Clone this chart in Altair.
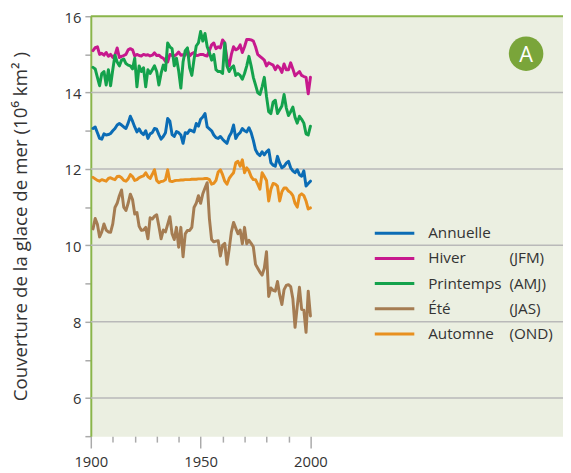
import altair as alt
import pandas as pd

years = list(range(1901, 2001))

annuelle = [
    13.06, 13.10, 12.95, 12.80, 12.78, 12.92, 12.89, 12.90, 12.93, 13.00,
    13.06, 13.15, 13.19, 13.15, 13.10, 13.06, 13.20, 13.38, 13.25, 13.10,
    12.97, 13.05, 12.95, 12.90, 13.00, 12.80, 12.92, 12.95, 13.06, 13.04,
    12.90, 12.78, 12.85, 12.95, 13.32, 13.25, 12.90, 12.85, 12.98, 12.95,
    12.89, 12.67, 12.95, 12.93, 13.02, 13.00, 12.97, 13.19, 13.12, 13.30,
    13.36, 13.45, 13.10, 13.05, 13.00, 12.89, 12.82, 12.80, 12.85, 12.78,
    12.72, 12.67, 12.85, 12.95, 13.15, 12.80, 12.90, 12.95, 13.06, 13.00,
    12.97, 13.08, 12.95, 12.75, 12.50, 12.40, 12.35, 12.45, 12.37, 12.45,
    12.50, 12.16, 12.10, 12.07, 12.33, 12.15, 12.03, 12.07, 12.15, 12.20,
    12.03, 11.95, 11.90, 11.98, 11.85, 11.81, 11.95, 11.55, 11.62, 11.68,
]
hiver = [
    15.10, 15.18, 15.20, 15.00, 15.03, 14.98, 15.05, 14.95, 15.00, 14.92,
    14.98, 15.17, 14.92, 14.95, 14.97, 15.00, 15.12, 15.15, 15.12, 14.96,
    15.00, 14.97, 14.96, 15.00, 14.98, 14.99, 14.96, 14.98, 15.04, 14.97,
    14.98, 14.93, 14.90, 14.82, 14.80, 15.00, 14.97, 14.96, 15.00, 15.06,
    14.98, 14.99, 14.98, 15.12, 14.96, 15.02, 15.05, 14.97, 14.98, 15.00,
    15.00, 14.97, 14.96, 15.10, 15.25, 15.30, 15.15, 15.20, 15.17, 15.38,
    15.30, 14.88, 14.70, 15.00, 15.20, 15.12, 15.15, 15.25, 15.05, 15.20,
    15.39, 15.39, 15.38, 15.35, 15.20, 15.00, 14.95, 14.90, 14.85, 14.70,
    14.78, 14.75, 14.72, 14.60, 14.70, 14.65, 14.53, 14.75, 14.60, 14.60,
    14.78, 14.62, 14.44, 14.50, 14.55, 14.45, 14.42, 14.40, 13.97, 14.40,
]
printemps = [
    14.66, 14.62, 14.40, 14.18, 14.50, 14.55, 14.20, 14.60, 14.18, 14.60,
    14.98, 14.80, 14.70, 14.85, 14.88, 14.76, 14.72, 14.70, 14.62, 14.90,
    14.15, 14.70, 14.55, 14.65, 14.15, 14.60, 14.50, 14.60, 14.70, 14.55,
    14.20, 14.50, 14.72, 14.58, 15.30, 15.20, 15.15, 14.70, 14.90, 14.57,
    14.12, 14.80, 15.10, 15.17, 14.65, 14.45, 14.87, 15.22, 15.30, 15.60,
    15.35, 15.55, 15.20, 15.05, 14.85, 15.00, 14.60, 14.55, 14.55, 14.50,
    15.30, 14.70, 14.55, 14.65, 14.70, 14.45, 14.50, 14.45, 14.35, 14.50,
    14.70, 14.95, 14.70, 14.40, 14.20, 14.00, 13.95, 14.15, 14.40, 13.90,
    13.50, 13.45, 13.75, 13.80, 13.45, 13.55, 13.65, 13.95, 13.60, 13.40,
    13.50, 13.62, 13.35, 13.20, 13.38, 13.30, 13.20, 12.92, 12.89, 13.12,
]
ete = [
    10.43, 10.70, 10.55, 10.22, 10.35, 10.56, 10.40, 10.35, 10.34, 10.56,
    10.99, 11.10, 11.30, 11.45, 11.00, 10.91, 11.10, 11.34, 11.20, 10.82,
    10.86, 10.50, 10.39, 10.40, 10.47, 10.17, 10.72, 10.69, 10.76, 10.80,
    10.50, 10.17, 10.40, 10.35, 10.55, 10.75, 10.30, 10.15, 10.47, 9.95,
    10.47, 9.70, 10.30, 10.39, 10.39, 10.47, 10.99, 11.10, 11.30, 11.10,
    11.35, 11.50, 11.64, 10.70, 10.15, 10.09, 10.11, 10.12, 9.72, 10.00,
    10.05, 9.50, 9.90, 10.35, 10.60, 10.45, 10.30, 10.40, 10.04, 10.47,
    10.04, 10.13, 10.05, 9.96, 9.50, 9.40, 9.30, 9.22, 9.40, 9.83,
    8.66, 8.88, 8.82, 8.80, 9.05, 8.70, 8.45, 8.84, 8.95, 8.97,
    8.92, 8.60, 7.85, 8.40, 8.90, 8.32, 8.30, 7.72, 8.80, 8.15,
]
automne = [
    11.78, 11.74, 11.70, 11.68, 11.72, 11.70, 11.68, 11.75, 11.77, 11.74,
    11.72, 11.80, 11.81, 11.77, 11.70, 11.68, 11.74, 11.85, 11.80, 11.70,
    11.72, 11.77, 11.80, 11.82, 11.90, 11.80, 11.75, 11.86, 11.98, 11.70,
    11.64, 11.67, 11.68, 11.72, 11.98, 11.68, 11.67, 11.69, 11.70, 11.70,
    11.71, 11.71, 11.72, 11.72, 11.72, 11.73, 11.73, 11.73, 11.74, 11.74,
    11.74, 11.75, 11.75, 11.72, 11.60, 11.62, 11.70, 11.92, 11.98, 11.85,
    11.68, 11.60, 11.75, 11.83, 11.90, 12.16, 12.20, 12.07, 12.24, 11.90,
    12.03, 11.95, 11.80, 11.72, 11.72, 11.60, 11.47, 11.90, 11.80, 11.70,
    11.16, 11.47, 11.62, 11.60, 11.55, 11.16, 11.40, 11.50, 11.50, 11.42,
    11.38, 11.30, 11.10, 11.00, 11.30, 11.35, 11.30, 11.16, 10.95, 10.98,
]

series_names = ["Annuelle", "Hiver", "Printemps", "Été", "Automne"]
series_codes = ["", "(JFM)", "(AMJ)", "(JAS)", "(OND)"]
series_colors = ["#0b6cb5", "#c7198d", "#14a24c", "#a57c52", "#e8901f"]
grid_values = [6, 8, 10, 12, 14]
x_ticks = list(range(1900, 2001, 10))
y_ticks = list(range(5, 17))
y_title = "Couverture de la glace de mer (10⁶  km² )"
badge_label = ["A"]

GREEN = "#8ab54a"
TEXT = "#333333"

series_values = dict(zip(series_names, [annuelle, hiver, printemps, ete, automne]))
rows = []
for name in series_names:
    for yr, v in zip(years, series_values[name]):
        rows.append({"year": yr, "value": v, "series": name})
df = pd.DataFrame(rows)

xscale = alt.Scale(domain=[1900, 2115], nice=False, zero=False)
yscale = alt.Scale(domain=[5, 16], nice=False, zero=False)

xaxis = alt.Axis(
    values=x_ticks, format="d",
    labelExpr="datum.value % 50 === 0 ? datum.label : ''",
    tickSize={"condition": {"test": "datum.value % 50 === 0", "value": 12}, "value": 6},
    tickColor="#aaaaaa", tickWidth=1.5, domain=False, grid=False,
    labelFont="Open Sans", labelFontSize=15, labelColor=TEXT,
    labelPadding=7, labelOverlap=False, labelFlush=False,
)
yaxis = alt.Axis(
    values=y_ticks,
    labelExpr="datum.value % 2 === 0 ? datum.label : ''",
    tickSize=6, tickColor="#aaaaaa", tickWidth=1.5,
    domainColor=GREEN, domainWidth=2, grid=False,
    labelFont="Open Sans", labelFontSize=15, labelColor=TEXT,
    labelPadding=4, labelOverlap=False, labelFlush=False, labelOffset=1,
    title=y_title, titleFont="Open Sans", titleFontSize=19, titleFontWeight="normal",
    titleColor=TEXT, titleX=-65, titleY=213, titleAngle=270,
    titleAlign="center", titleBaseline="alphabetic",
)


def X(field):
    return alt.X(field, scale=xscale, axis=xaxis, title=None)


def Y(field):
    return alt.Y(field, scale=yscale, axis=yaxis)


color_scale = alt.Scale(domain=series_names, range=series_colors)

grid = alt.Chart(pd.DataFrame({"value": grid_values})).mark_rule(
    color="#b9b9b9", strokeWidth=1.5
).encode(y=Y("value:Q"))

top_border = alt.Chart(pd.DataFrame({"value": [16]})).mark_rule(
    color=GREEN, strokeWidth=2
).encode(y=Y("value:Q"))

draw_order = ["Hiver", "Printemps", "Été", "Automne", "Annuelle"]
line_layers = []
for name in draw_order:
    line_layers.append(
        alt.Chart(df).transform_filter(alt.datum.series == name).mark_line(
            strokeWidth=3, strokeJoin="round", strokeCap="round"
        ).encode(
            x=X("year:Q"), y=Y("value:Q"),
            color=alt.Color("series:N", scale=color_scale, legend=None),
        )
    )

legend_df = pd.DataFrame({"name": series_names, "code": series_codes, "row": list(range(5))})
leg_base = alt.Chart(legend_df).transform_calculate(
    value="10.315 - 0.659 * datum.row",
    year="2029.3", year2="2047.3", ytext="2053.6", ycode="2090.6",
)
leg_lines = leg_base.mark_rule(strokeWidth=3).encode(
    x=X("year:Q"), x2="year2:Q", y=Y("value:Q"),
    color=alt.Color("name:N", scale=color_scale, legend=None),
)
leg_names = leg_base.mark_text(
    align="left", baseline="middle", font="Open Sans", fontSize=15.5, color=TEXT
).encode(x=X("ytext:Q"), y=Y("value:Q"), text="name:N")
leg_codes = leg_base.mark_text(
    align="left", baseline="middle", font="Open Sans", fontSize=15.5, color=TEXT
).encode(x=X("ycode:Q"), y=Y("value:Q"), text="code:N")

badge_base = alt.Chart(pd.DataFrame({"label": badge_label})).transform_calculate(
    year="2098.2", value="15.02"
)
badge_circle = badge_base.mark_point(
    filled=True, shape="circle", size=1225, color="#7aa53a", opacity=1
).encode(x=X("year:Q"), y=Y("value:Q"))
badge_text = badge_base.mark_text(
    align="center", baseline="middle", font="Open Sans", fontSize=22, color="white", dy=1
).encode(x=X("year:Q"), y=Y("value:Q"), text="label:N")

chart = alt.layer(
    grid, top_border, *line_layers, leg_lines, leg_names, leg_codes, badge_circle, badge_text
).properties(
    width=479, height=426,
    padding={"left": 84, "top": 5, "right": 0, "bottom": 34},
    autosize=alt.AutoSizeParams(type="none"),
    background="white",
).configure_view(fill="#ebefe1", stroke="transparent")

chart.save("out.html", embed_options={"renderer": "svg", "actions": False})
